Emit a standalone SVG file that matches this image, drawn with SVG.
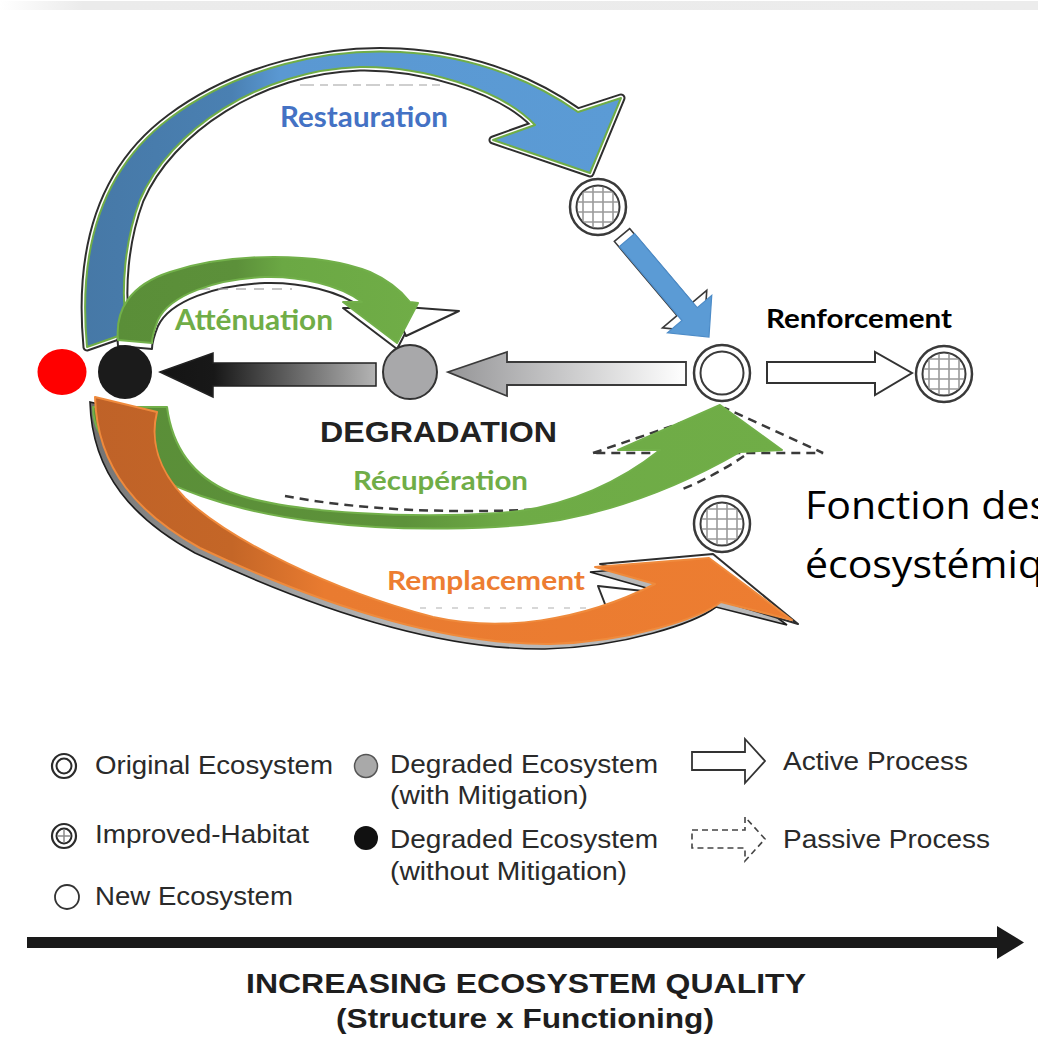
<svg xmlns="http://www.w3.org/2000/svg" xmlns:xlink="http://www.w3.org/1999/xlink" width="1038" height="1062" viewBox="0 0 1038 1062">
<style>
  .lbl{font-family:Lato,"Open Sans","Liberation Sans",sans-serif;font-weight:700}
  .leg{font-family:"Liberation Sans",Arial,sans-serif;font-size:25px;fill:#2a2a2a}
  .axis{font-family:"Liberation Sans",Arial,sans-serif;font-weight:700;font-size:28px;fill:#1e1e1e}
  .old{fill:#fff;stroke:#2e2e2e;stroke-width:2;stroke-linejoin:round}
  .dash{fill:none;stroke:#3a3a3a;stroke-width:2.5;stroke-dasharray:9 6}
  .ring{fill:#fff;stroke:#3a3a3a;stroke-width:2.5}
  .grid{stroke:#9a9a9a;stroke-width:1.6}
  .big{font-family:"Open Sans","Noto Sans",sans-serif;font-size:39px;fill:#000}
</style>
<defs>
  <linearGradient id="gStrip" x1="0" y1="0" x2="1" y2="0">
    <stop offset="0" stop-color="#ffffff"/>
    <stop offset="0.08" stop-color="#ebebeb"/>
    <stop offset="1" stop-color="#ececec"/>
  </linearGradient>
  <linearGradient id="gBlue" gradientUnits="userSpaceOnUse" x1="80" y1="0" x2="620" y2="0">
    <stop offset="0" stop-color="#4678a6"/>
    <stop offset="0.28" stop-color="#4a80b2"/>
    <stop offset="0.37" stop-color="#5a98d2"/>
    <stop offset="1" stop-color="#5b9bd5"/>
  </linearGradient>
  <linearGradient id="gAtt" gradientUnits="userSpaceOnUse" x1="115" y1="0" x2="420" y2="0">
    <stop offset="0" stop-color="#5a8e38"/>
    <stop offset="0.4" stop-color="#5c903a"/>
    <stop offset="0.55" stop-color="#6ba844"/>
    <stop offset="1" stop-color="#70ad47"/>
  </linearGradient>
  <linearGradient id="gRec" gradientUnits="userSpaceOnUse" x1="90" y1="0" x2="790" y2="0">
    <stop offset="0" stop-color="#5a8e38"/>
    <stop offset="0.45" stop-color="#5d923a"/>
    <stop offset="0.6" stop-color="#6eab46"/>
    <stop offset="1" stop-color="#70ad47"/>
  </linearGradient>
  <linearGradient id="gOr" gradientUnits="userSpaceOnUse" x1="90" y1="0" x2="800" y2="0">
    <stop offset="0" stop-color="#bf6228"/>
    <stop offset="0.2" stop-color="#c46627"/>
    <stop offset="0.33" stop-color="#e97b30"/>
    <stop offset="1" stop-color="#ed7d31"/>
  </linearGradient>
  <linearGradient id="gOldOr" gradientUnits="userSpaceOnUse" x1="90" y1="400" x2="400" y2="640">
    <stop offset="0" stop-color="#6d6d6d"/>
    <stop offset="1" stop-color="#b8b8b8"/>
  </linearGradient>
  <linearGradient id="gBlack" gradientUnits="userSpaceOnUse" x1="160" y1="0" x2="376" y2="0">
    <stop offset="0" stop-color="#141414"/>
    <stop offset="0.25" stop-color="#181818"/>
    <stop offset="1" stop-color="#b4b4b4"/>
  </linearGradient>
  <linearGradient id="gGray" gradientUnits="userSpaceOnUse" x1="448" y1="0" x2="686" y2="0">
    <stop offset="0" stop-color="#959597"/>
    <stop offset="1" stop-color="#ffffff"/>
  </linearGradient>

  <!-- arrow outlines reused for the colour fill and the earlier outline under it -->
  <path id="pBlue" d="M87,347 C78,250 100,170 170,118 C240,66 330,48 400,52 C480,56 540,85 578,112 L621,98 L590,173 L493,140 L535,125 C500,88 420,66 360,67 C260,70 170,130 140,200 C125,240 120,290 127,333 Z"/>
  <path id="pAtt" d="M118,340 C115,310 130,285 170,272 C230,252 320,252 370,272 C390,281 402,292 410,302 L418,303 L397,343 L343,302 L362,302 C340,285 300,276 265,277 C215,279 170,295 158,320 C154,330 152,337 152,343 Z"/>
  <path id="pRec" d="M93,407 L167,407 C172,445 190,475 230,492 C290,515 420,518 500,513 C570,508 625,478 660,450 L618,450 L720,405 L782,450 L740,452 C700,475 640,505 560,520 C500,530 400,532 320,522 C230,512 160,485 120,455 C100,440 93,425 93,407 Z"/>
  <path id="pOr" d="M95,397 L157,412 C150,440 158,470 185,498 C230,540 330,590 433,617 C500,632 580,622 655,584 L595,567 L709,558 L792,620 L721,602 C700,618 630,642 550,644 C430,645 300,595 200,548 C140,515 97,470 95,397 Z"/>
  <polygon id="pSmall" points="0,-10 97,-10 97,-29 127,0 97,29 97,10 0,10"/>

  <clipPath id="cInner"><circle cx="0" cy="0" r="21"/></clipPath>
  <g id="improved">
    <circle class="ring" r="28"/>
    <circle r="21.5" fill="#fff" stroke="#3a3a3a" stroke-width="2"/>
    <g clip-path="url(#cInner)" class="grid">
      <line x1="-15" y1="-25" x2="-15" y2="25"/>
      <line x1="-5" y1="-25" x2="-5" y2="25"/>
      <line x1="5" y1="-25" x2="5" y2="25"/>
      <line x1="15" y1="-25" x2="15" y2="25"/>
      <line x1="-25" y1="-15" x2="25" y2="-15"/>
      <line x1="-25" y1="-5" x2="25" y2="-5"/>
      <line x1="-25" y1="5" x2="25" y2="5"/>
      <line x1="-25" y1="15" x2="25" y2="15"/>
    </g>
  </g>
</defs>

<rect width="1038" height="1062" fill="#fff"/>
<rect x="0" y="1" width="1038" height="9" fill="url(#gStrip)"/>

<g id="connectors">
  <!-- earlier black-outlined arrows showing around the coloured ones -->
  <use xlink:href="#pBlue" fill="#fff" stroke="#2e2e2e" stroke-width="9" stroke-linejoin="round"/>
  <use xlink:href="#pBlue" fill="#fff" stroke="#fff" stroke-width="5" stroke-linejoin="round"/>
  <use xlink:href="#pAtt" class="old" transform="translate(0,6)"/>
  <polygon class="old" points="392,306 459,311 406,336"/>
  <use xlink:href="#pOr" transform="translate(-5,5)" fill="url(#gOldOr)" stroke="#1e1e1e" stroke-width="1.6"/>
  <polygon class="old" points="600,564 713,554 798,624"/>
  <polygon class="old" points="598,586 652,592 610,617"/>
  <path class="dash" d="M593,453 L725,408 L823,453 Z"/>
  <path class="dash" d="M285,496 C360,510 450,514 545,509"/>
  <path class="dash" d="M744,456 Q715,476 678,491"/>
  <!-- faint remains of earlier labels -->
  <path d="M300,85 L440,85" stroke="#b0b0b0" stroke-width="2" stroke-dasharray="14 6 8 5" opacity="0.6"/>
  <path d="M200,289 L292,289" stroke="#a0a0a0" stroke-width="2" stroke-dasharray="10 8" opacity="0.6"/>
  <path d="M420,608 L600,608" stroke="#a8a8a8" stroke-width="1.5" stroke-dasharray="6 10" opacity="0.6"/>

  <!-- coloured process arrows -->
  <use id="arc-restauration" xlink:href="#pBlue" fill="url(#gBlue)" stroke="#70ad47" stroke-width="2" stroke-linejoin="round"/>
  <use id="arc-attenuation" xlink:href="#pAtt" fill="url(#gAtt)" stroke="#72b04a" stroke-width="2" stroke-linejoin="round"/>
  <use id="arc-recuperation" xlink:href="#pRec" fill="url(#gRec)" stroke="#72b04a" stroke-width="2" stroke-linejoin="round"/>
  <use id="arc-remplacement" xlink:href="#pOr" fill="url(#gOr)" stroke="#ef8a3c" stroke-width="2" stroke-linejoin="round"/>

  <!-- improved habitat to new ecosystem -->
  <use xlink:href="#pSmall" transform="translate(622,235) rotate(49.8)" fill="#fff" stroke="#3a3a3a" stroke-width="1.6"/>
  <use id="arrow-restore-new" xlink:href="#pSmall" transform="translate(627,240) rotate(49.8)" fill="#5b9bd5" stroke="#4d8cc8" stroke-width="1.2"/>

  <!-- degradation chain -->
  <polygon id="arrow-degrade-black" points="160,372 213,353 213,363 376,363 376,386 213,386 213,397" fill="url(#gBlack)" stroke="#222" stroke-width="1.5"/>
  <polygon id="arrow-degrade-gray" points="448,372 507,352 507,362 686,362 686,385 507,385 507,396" fill="url(#gGray)" stroke="#3a3a3a" stroke-width="1.8"/>
  <polygon id="arrow-renforcement" points="767,362 875,362 875,352 912,373 875,395 875,383 767,383" fill="#fff" stroke="#333" stroke-width="2"/>
</g>

<g id="node-red"><ellipse cx="62" cy="372" rx="24.5" ry="23" fill="#ff0000"/></g>
<g id="node-degraded-without"><circle cx="125" cy="372" r="27" fill="#1b1b1b"/></g>
<g id="node-degraded-with"><circle cx="410" cy="372" r="27" fill="#a8a8aa" stroke="#333" stroke-width="2"/></g>
<g id="node-new">
  <circle cx="722" cy="373" r="28" class="ring"/>
  <circle cx="722" cy="373" r="21.5" fill="#fff" stroke="#3a3a3a" stroke-width="2"/>
</g>
<g id="node-improved-top"><use xlink:href="#improved" transform="translate(598,207)"/></g>
<g id="node-improved-right"><use xlink:href="#improved" transform="translate(944,374)"/></g>
<g id="node-improved-low"><use xlink:href="#improved" transform="translate(722,524)"/></g>

<g id="labels">
  <text class="lbl" x="280" y="127" font-size="28" fill="#4472c4" textLength="168" lengthAdjust="spacingAndGlyphs">Restauration</text>
  <text class="lbl" x="175" y="330" font-size="28" fill="#70ad47" textLength="158" lengthAdjust="spacingAndGlyphs">Atténuation</text>
  <text class="lbl" x="766" y="328" font-size="26" fill="#000" textLength="186" lengthAdjust="spacingAndGlyphs">Renforcement</text>
  <text x="320" y="442" font-family="Liberation Sans,Arial,sans-serif" font-weight="700" font-size="30" fill="#222" textLength="237" lengthAdjust="spacingAndGlyphs">DEGRADATION</text>
  <text class="lbl" x="353" y="490" font-size="27" fill="#70ad47" textLength="175" lengthAdjust="spacingAndGlyphs">Récupération</text>
  <text class="lbl" x="387" y="590" font-size="27" fill="#ed7d31" textLength="198" lengthAdjust="spacingAndGlyphs">Remplacement</text>
  <text class="big" x="805" y="519" textLength="244" lengthAdjust="spacingAndGlyphs">Fonction des</text>
  <text class="big" x="805" y="578" textLength="238" lengthAdjust="spacingAndGlyphs">écosystémiq</text>
</g>

<g id="legend">
  <g id="legend-original">
    <circle cx="64" cy="766" r="12" fill="#fff" stroke="#2a2a2a" stroke-width="2.2"/>
    <circle cx="64" cy="766" r="7.5" fill="#fff" stroke="#2a2a2a" stroke-width="2"/>
    <text class="leg" x="95" y="774" textLength="238" lengthAdjust="spacingAndGlyphs">Original Ecosystem</text>
  </g>
  <g id="legend-improved">
    <circle cx="64" cy="836" r="12" fill="#fff" stroke="#2a2a2a" stroke-width="2.2"/>
    <circle cx="64" cy="836" r="7.5" fill="#fff" stroke="#2a2a2a" stroke-width="2"/>
    <path d="M64,829 V843 M57,836 H71" stroke="#8a8a8a" stroke-width="1.5"/>
    <text class="leg" x="95" y="843" textLength="214" lengthAdjust="spacingAndGlyphs">Improved-Habitat</text>
  </g>
  <g id="legend-new">
    <circle cx="67" cy="897" r="12" fill="#fff" stroke="#333" stroke-width="1.8"/>
    <text class="leg" x="95" y="905" textLength="198" lengthAdjust="spacingAndGlyphs">New Ecosystem</text>
  </g>
  <g id="legend-with">
    <circle cx="366" cy="766" r="11.5" fill="#a9a9a9" stroke="#555" stroke-width="1.5"/>
    <text class="leg" x="390" y="773" textLength="268" lengthAdjust="spacingAndGlyphs">Degraded Ecosystem</text>
    <text class="leg" x="390" y="804" textLength="198" lengthAdjust="spacingAndGlyphs">(with Mitigation)</text>
  </g>
  <g id="legend-without">
    <circle cx="366" cy="838" r="12" fill="#111"/>
    <text class="leg" x="390" y="848" textLength="268" lengthAdjust="spacingAndGlyphs">Degraded Ecosystem</text>
    <text class="leg" x="390" y="880" textLength="237" lengthAdjust="spacingAndGlyphs">(without Mitigation)</text>
  </g>
  <g id="legend-active">
    <polygon points="692,752 745,752 745,739 765,761 745,783 745,770 692,770" fill="#fff" stroke="#333" stroke-width="1.8"/>
    <text class="leg" x="783" y="770" textLength="185" lengthAdjust="spacingAndGlyphs">Active Process</text>
  </g>
  <g id="legend-passive">
    <polygon points="692,830 745,830 745,817 765,839 745,861 745,848 692,848" fill="#fff" stroke="#444" stroke-width="1.6" stroke-dasharray="6 4"/>
    <text class="leg" x="783" y="848" textLength="207" lengthAdjust="spacingAndGlyphs">Passive Process</text>
  </g>
</g>

<g id="quality-axis">
  <rect x="27" y="937" width="973" height="11" fill="#1a1a1a"/>
  <polygon points="997,926 1024,942.5 997,959" fill="#1a1a1a"/>
  <text class="axis" x="246" y="993" textLength="560" lengthAdjust="spacingAndGlyphs">INCREASING ECOSYSTEM QUALITY</text>
  <text class="axis" x="336" y="1028" textLength="378" lengthAdjust="spacingAndGlyphs">(Structure x Functioning)</text>
</g>
</svg>
